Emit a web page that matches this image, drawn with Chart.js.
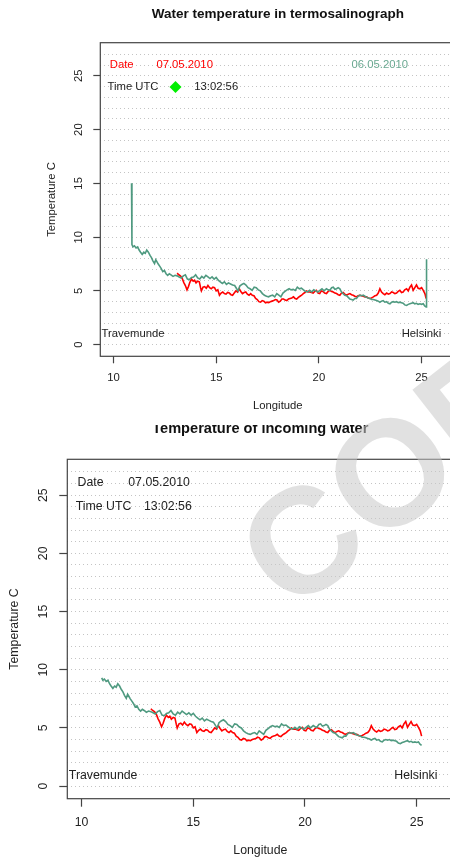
<!DOCTYPE html>
<html>
<head>
<meta charset="utf-8">
<script src="https://cdn.jsdelivr.net/npm/chart.js@4/dist/chart.umd.min.js"></script>
<style>
  html, body { margin: 0; padding: 0; background: #fff; overflow: hidden; width: 450px; height: 859px; }
  #top { position: absolute; left: 0; top: 0; z-index: 2; }
  #bottom { position: absolute; left: 0; top: 410px; z-index: 1; }
  #mark { position: absolute; left: 0; top: 0; z-index: 3; pointer-events: none; }
</style>
</head>
<body>
<canvas id="top" width="460" height="425"></canvas>
<canvas id="bottom" width="460" height="460"></canvas>
<canvas id="mark" width="450" height="859"></canvas>
<script>
// 06.05.2010 track (green)
const lonGreen = [10.90, 10.95, 11.02, 11.10, 11.18, 11.25, 11.32, 11.40, 11.48, 11.55, 11.62, 11.70, 11.78, 11.85, 11.92, 12.00,
  12.06, 12.12, 12.18, 12.25, 12.32, 12.40, 12.48, 12.56, 12.64, 12.72, 12.80, 12.90, 13.00, 13.10, 13.20, 13.30, 13.40, 13.50,
  13.60, 13.70, 13.80, 13.90, 14.00, 14.10, 14.20, 14.30, 14.40, 14.50, 14.60, 14.70, 14.80, 14.90, 15.00, 15.10, 15.20, 15.30,
  15.40, 15.50, 15.60, 15.70, 15.80, 15.90, 16.00, 16.07, 16.15, 16.25, 16.35, 16.45, 16.55, 16.65, 16.75, 16.85, 16.95, 17.05,
  17.15, 17.25, 17.35, 17.45, 17.55, 17.65, 17.75, 17.85, 17.95, 18.05, 18.15, 18.25, 18.35, 18.45, 18.55, 18.65, 18.75, 18.85,
  18.95, 19.05, 19.15, 19.25, 19.35, 19.45, 19.55, 19.65, 19.75, 19.85, 19.95, 20.05, 20.15, 20.25, 20.37, 20.45, 20.53, 20.62,
  20.70, 20.78, 20.86, 20.94, 21.02, 21.10, 21.18, 21.26, 21.35, 21.43, 21.51, 21.59, 21.67, 21.75, 21.83, 21.91, 22.00, 22.08,
  22.16, 22.24, 22.32, 22.40, 22.48, 22.56, 22.65, 22.73, 22.81, 22.89, 22.97, 23.05, 23.13, 23.21, 23.30, 23.38, 23.46, 23.54,
  23.62, 23.70, 23.78, 23.86, 23.94, 24.02, 24.10, 24.18, 24.27, 24.35, 24.43, 24.51, 24.59, 24.67, 24.75, 24.83, 24.92, 25.00,
  25.08, 25.15, 25.22];
const tempGreen = [9.3, 9.1, 9.2, 9.0, 9.1, 8.8, 8.6, 8.4, 8.6, 8.5, 8.8, 8.6, 8.3, 8.1, 7.8, 7.55,
  7.9, 7.7, 7.5, 7.3, 7.1, 6.8, 6.9, 6.6, 6.45, 6.6, 6.5, 6.35, 6.45, 6.4, 6.3, 6.2, 6.4, 6.5,
  6.1, 6.05, 6.25, 6.3, 6.5, 6.2, 6.1, 6.35, 6.2, 6.45, 6.3, 6.15, 6.3, 6.1, 6.25, 6.0, 5.85, 5.7,
  5.85, 5.6, 5.75, 5.65, 5.55, 5.5, 5.2, 5.0, 5.45, 5.6, 5.7, 5.55, 5.3, 5.2, 5.05, 5.35, 5.3, 5.1,
  5.0, 4.75, 4.6, 4.5, 4.45, 4.55, 4.6, 4.45, 4.75, 4.6, 4.45, 4.8, 4.95, 5.1, 5.2, 5.1, 5.15, 5.05,
  5.35, 5.2, 5.25, 5.1, 4.95, 4.9, 5.05, 4.9, 5.1, 5.0, 4.9, 5.05, 5.2, 5.0, 5.2, 5.1, 5.05, 5.3,
  5.35, 5.15, 5.2, 5.3, 5.2, 4.9, 4.75, 4.6, 4.55, 4.4, 4.25, 4.2, 4.15, 4.3, 4.3, 4.5, 4.6, 4.55,
  4.6, 4.5, 4.4, 4.35, 4.3, 4.2, 4.2, 4.15, 4.1, 4.05, 3.95, 4.05, 4.1, 3.95, 4.0, 3.85, 3.8, 3.95,
  4.0, 3.95, 4.0, 3.9, 3.95, 3.9, 3.85, 3.7, 3.65, 3.75, 3.8, 3.85, 3.9, 3.8, 3.85, 3.75, 3.8, 3.75,
  3.8, 3.6, 3.5];

// sensor spikes at start and end, only in the termosalinograph record
const spikeStartLon = [10.88];
const spikeStartTemp = [15.0];
const spikeEndLon = [25.24];
const spikeEndTemp = [7.95];

// 07.05.2010 track (red)
const lonRed = [13.10, 13.18, 13.26, 13.34, 13.42, 13.50, 13.58, 13.65, 13.72, 13.80, 13.88, 13.95, 14.02, 14.10, 14.18, 14.24,
  14.28, 14.36, 14.44, 14.52, 14.60, 14.68, 14.76, 14.84, 14.92, 15.00, 15.08, 15.16, 15.24, 15.32, 15.40, 15.48, 15.56, 15.64,
  15.72, 15.80, 15.88, 15.96, 16.04, 16.12, 16.20, 16.28, 16.36, 16.44, 16.52, 16.60, 16.68, 16.76, 16.84, 16.92, 17.00, 17.08,
  17.16, 17.24, 17.32, 17.40, 17.48, 17.56, 17.64, 17.72, 17.80, 17.88, 17.96, 18.04, 18.12, 18.20, 18.28, 18.36, 18.44, 18.52,
  18.60, 18.68, 18.76, 18.84, 18.92, 19.00, 19.08, 19.16, 19.24, 19.32, 19.40, 19.48, 19.56, 19.64, 19.72, 19.80, 19.88, 19.96,
  20.04, 20.12, 20.20, 20.28, 20.37, 20.45, 20.53, 20.62, 20.70, 20.78, 20.86, 20.94, 21.02, 21.10, 21.18, 21.26, 21.35, 21.43,
  21.51, 21.59, 21.67, 21.75, 21.83, 21.91, 22.00, 22.08, 22.16, 22.24, 22.32, 22.40, 22.48, 22.56, 22.65, 22.73, 22.81, 22.89,
  22.97, 23.05, 23.13, 23.21, 23.30, 23.38, 23.46, 23.54, 23.62, 23.70, 23.78, 23.86, 23.94, 24.02, 24.10, 24.18, 24.27, 24.35,
  24.43, 24.51, 24.59, 24.67, 24.75, 24.83, 24.92, 25.00, 25.08, 25.16, 25.22];
const tempRed = [6.65, 6.5, 6.4, 6.2, 5.8, 5.5, 5.1, 5.4, 5.8, 6.1, 5.9, 6.0, 5.75, 5.9, 5.85, 5.3,
  5.0, 5.35, 5.4, 5.25, 5.5, 5.3, 5.2, 5.35, 5.3, 5.0, 5.1, 4.6, 4.8, 4.9, 4.75, 4.7, 4.85, 4.8,
  4.65, 4.6, 4.8, 5.0, 4.9, 5.2, 4.95, 4.75, 4.85, 4.9, 4.7, 4.6, 4.75, 4.6, 4.55, 4.3, 4.2, 4.0,
  3.95, 4.1, 4.05, 3.9, 3.95, 3.9, 4.0, 4.05, 4.1, 4.2, 4.15, 3.95, 4.05, 4.25, 4.25, 4.15, 4.1, 4.25,
  4.3, 4.35, 4.45, 4.3, 4.25, 4.4, 4.5, 4.6, 4.75, 4.85, 5.0, 4.9, 4.9, 4.85, 4.8, 4.95, 5.05, 4.8,
  4.75, 5.0, 4.95, 4.8, 4.75, 4.95, 5.05, 4.95, 4.9, 4.8, 4.75, 4.65, 4.6, 4.8, 4.85, 4.7, 4.6, 4.7,
  4.75, 4.65, 4.6, 4.5, 4.45, 4.55, 4.6, 4.55, 4.5, 4.45, 4.45, 4.35, 4.3, 4.35, 4.45, 4.55, 4.6, 4.8,
  5.2, 4.9, 4.75, 4.65, 4.8, 4.7, 4.75, 4.9, 4.85, 4.75, 4.8, 4.95, 5.05, 4.85, 4.9, 5.1, 5.2, 5.0,
  5.35, 5.55, 5.05, 5.3, 5.55, 5.25, 5.2, 5.3, 5.05, 4.75, 4.3];

const xTicks = [10, 15, 20, 25];
const yTicks = [0, 5, 10, 15, 20, 25];
const yGrid = [0, 1, 2, 3, 4, 5, 6, 7, 8, 9, 10, 11, 12, 13, 14, 15, 16, 17, 18, 19, 20, 21, 22, 23, 24, 25, 26, 27];

const RED = "#ff0000";
const GREEN = "#4f9a80";
const INK = "#222";
const FONT = "'Liberation Sans', Arial, sans-serif";

function pts(xs, ys) {
  return xs.map((x, i) => ({ x: x, y: ys[i] }));
}

function makeChart(id, cfg) {
  const f = cfg.fs;
  const annot = {
    id: "annot",
    beforeDraw(chart) {
      const ctx = chart.ctx;
      ctx.save();
      ctx.fillStyle = "#fff";
      ctx.fillRect(0, 0, chart.width, chart.height);
      ctx.restore();
    },
    afterDraw(chart) {
      const ctx = chart.ctx;
      const xs = chart.scales.x, ys = chart.scales.y;
      const a = chart.chartArea;
      ctx.save();
      // box
      ctx.strokeStyle = "#444";
      ctx.lineWidth = 1.2;
      ctx.strokeRect(a.left, a.top, a.right - a.left, a.bottom - a.top);

      // title
      ctx.fillStyle = "#111";
      ctx.font = "bold " + cfg.titleSize + "px " + FONT;
      ctx.textAlign = "center";
      ctx.textBaseline = "alphabetic";
      ctx.fillText(cfg.title, (a.left + a.right) / 2, cfg.titleY);

      ctx.font = f + "px " + FONT;
      ctx.textAlign = "left";
      ctx.textBaseline = "middle";
      cfg.labels.forEach(l => {
        ctx.fillStyle = l.color || INK;
        ctx.fillText(l.text, xs.getPixelForValue(l.x), ys.getPixelForValue(l.y));
      });

      if (cfg.diamond) {
        const cx = xs.getPixelForValue(cfg.diamond.x), cy = ys.getPixelForValue(cfg.diamond.y);
        const r = 6;
        ctx.fillStyle = "#00ee00";
        ctx.beginPath();
        ctx.moveTo(cx, cy - r);
        ctx.lineTo(cx + r, cy);
        ctx.lineTo(cx, cy + r);
        ctx.lineTo(cx - r, cy);
        ctx.closePath();
        ctx.fill();
      }
      ctx.restore();
    }
  };

  return new Chart(document.getElementById(id), {
    type: "scatter",
    data: {
      datasets: [{
        label: "06.05.2010",
        data: cfg.green,
        showLine: true,
        borderColor: GREEN,
        borderWidth: 1.6,
        pointRadius: 0,
        tension: 0
      }, {
        label: "07.05.2010",
        data: pts(lonRed, tempRed),
        showLine: true,
        borderColor: RED,
        borderWidth: 1.6,
        pointRadius: 0,
        tension: 0
      }]
    },
    options: {
      responsive: false,
      animation: false,
      layout: { padding: { left: 0, top: cfg.top, right: cfg.right, bottom: 0 } },
      plugins: { legend: { display: false }, tooltip: { enabled: false } },
      scales: {
        x: {
          type: "linear",
          min: 9.36, max: 26.64,
          afterBuildTicks: s => { s.ticks = xTicks.map(v => ({ value: v })); },
          afterFit: s => { s.height = cfg.xh; },
          grid: { drawOnChartArea: false, drawTicks: true, tickLength: cfg.tick, tickColor: "#444", tickWidth: 1.2 },
          border: { display: false },
          ticks: { color: INK, font: { family: FONT, size: f }, padding: cfg.xpad, maxRotation: 0, autoSkip: false },
          title: { display: true, text: "Longitude", color: INK, font: { family: FONT, size: f }, padding: { top: 0, bottom: cfg.xtitle } }
        },
        y: {
          type: "linear",
          min: -1.08, max: 28.08,
          afterBuildTicks: s => { s.ticks = yGrid.map(v => ({ value: v })); },
          afterFit: s => { s.width = cfg.yw; },
          grid: {
            color: "#c4c4c4",
            lineWidth: 1,
            drawTicks: true,
            tickLength: cfg.tick,
            tickWidth: 1.2,
            tickColor: c => yTicks.includes(c.tick.value) ? "#444" : "rgba(0,0,0,0)"
          },
          border: { display: false, dash: [1, 3] },
          ticks: {
            color: INK,
            font: { family: FONT, size: f },
            padding: cfg.ypad,
            minRotation: 90, maxRotation: 90,
            crossAlign: "center",
            autoSkip: false,
            callback: v => yTicks.includes(v) ? String(v) : ""
          },
          title: { display: true, text: "Temperature C", color: INK, font: { family: FONT, size: f }, padding: { top: cfg.ytitle, bottom: 0 } }
        }
      }
    },
    plugins: [annot]
  });
}

makeChart("top", {
  title: "Water temperature in termosalinograph",
  titleSize: 13.5, titleY: 18,
  fs: 11.3, top: 42.7, right: 4.7, xh: 68.7, yw: 100.3, tick: 7,
  xpad: 8, ypad: 8, xtitle: 12.4, ytitle: 44.9,
  green: pts(spikeStartLon, spikeStartTemp).concat(pts(lonGreen, tempGreen), pts(spikeEndLon, spikeEndTemp)),
  labels: [
    { text: "Date", x: 9.82, y: 26.0, color: RED },
    { text: "07.05.2010", x: 12.09, y: 26.0, color: RED },
    { text: "06.05.2010", x: 21.59, y: 26.0, color: "#6aa891" },
    { text: "Time UTC", x: 9.71, y: 23.95 },
    { text: "13:02:56", x: 13.93, y: 23.95 },
    { text: "Travemunde", x: 9.42, y: 0.96 },
    { text: "Helsinki", x: 24.03, y: 0.96 }
  ],
  diamond: { x: 13.02, y: 23.97 }
});

makeChart("bottom", {
  title: "Temperature of incoming water",
  titleSize: 14.6, titleY: 23.3,
  fs: 12.3, top: 49.3, right: 6.7, xh: 71.3, yw: 67.3, tick: 8,
  xpad: 8.5, ypad: 9, xtitle: 11.6, ytitle: 7.6,
  green: pts(lonGreen, tempGreen),
  labels: [
    { text: "Date", x: 9.82, y: 26.05 },
    { text: "07.05.2010", x: 12.09, y: 26.05 },
    { text: "Time UTC", x: 9.74, y: 24.0 },
    { text: "13:02:56", x: 12.79, y: 24.0 },
    { text: "Travemunde", x: 9.43, y: 0.91 },
    { text: "Helsinki", x: 24.0, y: 0.91 }
  ]
});

// light grey "COPY" watermark laid over the page
(function () {
  const ctx = document.getElementById("mark").getContext("2d");
  ctx.save();
  ctx.translate(300, 540);
  ctx.rotate(-38 * Math.PI / 180);
  ctx.font = "bold 150px " + FONT;
  ctx.fillStyle = "rgba(200,200,200,0.55)";
  ctx.textAlign = "left";
  ctx.textBaseline = "alphabetic";
  ctx.fillText("COPY", -54, 54);
  ctx.restore();
})();
</script>
</body>
</html>
